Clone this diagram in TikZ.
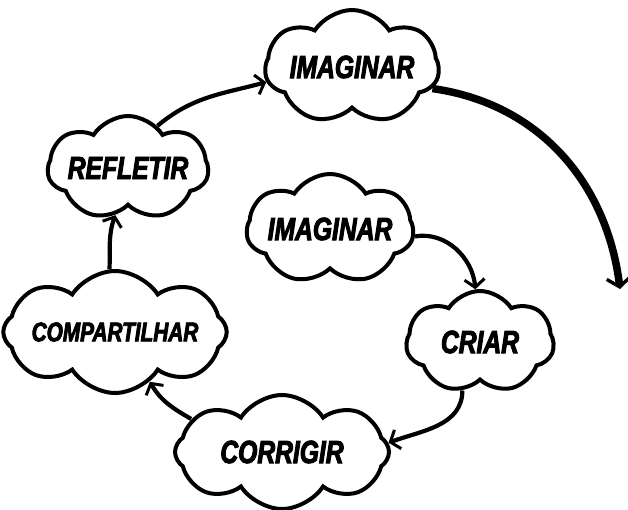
\documentclass[tikz,border=0pt]{standalone}
\usepackage{fontspec}
\newfontfamily\cloudfont{Liberation Sans}[FakeStretch=0.77,FakeBold=3]
\usetikzlibrary{shapes.symbols,arrows.meta}
\begin{document}
\begin{tikzpicture}[x=1pt,y=-1pt,
  cloudbox/.style={cloud, cloud puffs=7, cloud puff arc=115, cloud ignores aspect, draw, line width=4pt,
    inner sep=0pt, font=\cloudfont\bfseries\itshape\fontsize{32}{32}\selectfont},
  flow/.style={line width=4.2pt, -{Straight Barb[length=8pt,width=20pt,line width=3pt]}},
  bigflow/.style={line width=7.5pt, -{Straight Barb[length=9pt,width=24pt,line width=3.4pt]}}]
\useasboundingbox (0,0) rectangle (628,509);
\node[cloudbox, minimum width=174pt, minimum height=114pt] (img1) at (352,67) {IMAGINAR};
\node[cloudbox, minimum width=154pt, minimum height=104pt] (refl) at (128,168) {REFLETIR};
\node[cloudbox, minimum width=167pt, minimum height=110pt] (img2) at (330,229) {IMAGINAR};
\node[cloudbox, minimum width=148pt, minimum height=102pt] (criar) at (480,342) {CRIAR};
\node[cloudbox, minimum width=196pt, minimum height=122pt, font=\cloudfont\bfseries\itshape\fontsize{27}{27}\selectfont, cloud puffs=8] (comp) at (115,332) {COMPARTILHAR};
\node[cloudbox, minimum width=214pt, minimum height=114pt, cloud puffs=8] (corr) at (282,452) {CORRIGIR};
\coordinate (bigend) at (620,289);
\draw[bigflow] (img1.-15) to[out=-8, in=97] (bigend);
\draw[flow] (refl.55) to[out=40, in=195] (img1.190);
\draw[flow] (img2.-5) to[out=10, in=95] (criar.95);
\draw[flow] (criar.-110) to[out=-90, in=20] (corr.5);
\draw[flow] (corr.160) to[out=150, in=-60] (comp.-55);
\draw[flow] (comp.95) to[out=88, in=-110] (refl.-105);
\end{tikzpicture}
\end{document}
